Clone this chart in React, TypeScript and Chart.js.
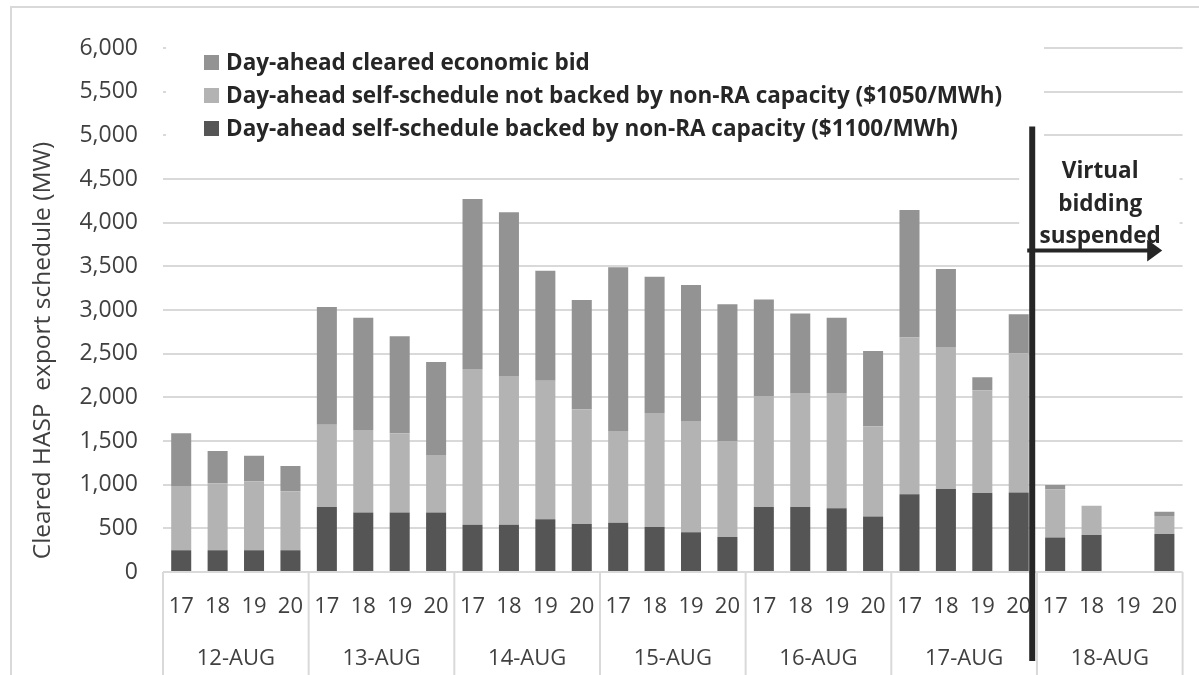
import React, { useEffect, useRef } from 'react';
import { Chart, registerables } from 'chart.js';

Chart.register(...registerables);

// ---------- data ----------
const HOURS = ['17', '18', '19', '20'];
const DATES = ['12-AUG', '13-AUG', '14-AUG', '15-AUG', '16-AUG', '17-AUG', '18-AUG'];
const HOUR_LABELS = DATES.flatMap(() => HOURS);

const SERIES_NAMES = [
  'Day-ahead cleared economic bid',
  'Day-ahead self-schedule not backed by non-RA capacity ($1050/MWh)',
  'Day-ahead self-schedule backed by non-RA capacity ($1100/MWh)',
];

// MW, one value per hour label
const BACKED_NON_RA = [250, 250, 250, 250, 745, 680, 680, 680, 540, 540, 605, 550, 565, 515, 455, 400, 745, 745, 730, 635, 890, 950, 905, 910, 395, 425, 0, 435];
const NOT_BACKED_NON_RA = [735, 765, 790, 675, 940, 945, 910, 660, 1785, 1705, 1585, 1310, 1050, 1305, 1275, 1100, 1270, 1305, 1320, 1035, 1795, 1625, 1175, 1595, 550, 335, 0, 205];
const ECONOMIC_BID = [605, 370, 290, 290, 1350, 1285, 1110, 1065, 1945, 1875, 1260, 1255, 1875, 1560, 1555, 1565, 1105, 910, 860, 860, 1460, 895, 150, 445, 50, 0, 0, 50];

const Y_MIN = 0;
const Y_MAX = 6000;
const Y_STEP = 500;
const Y_TITLE = 'Cleared HASP  export schedule (MW)';

const ANNOTATION_TEXT = ['Virtual', 'bidding', 'suspended'];
const SUSPEND_AFTER_INDEX = 23; // between 17-AUG 20 and 18-AUG 17
const ARROW_LEVEL = 3680;
const LINE_TOP_LEVEL = 5100;

// ---------- styles ----------
const FONT = '"Open Sans", Lato, sans-serif';
const TEXT = '#404040';
const BOLD_TEXT = '#262626';
const GRID = '#d9d9d9';
const COLORS = ['#939393', '#b3b3b3', '#555555'];
const BOLD_SIZE = 22.5;

const overlayPlugin = {
  id: 'overlay',
  beforeDatasetsDraw(chart: any) {
    const { ctx, chartArea: a, scales } = chart;
    const x = scales.x;
    const y = scales.y;
    ctx.save();
    ctx.fillStyle = '#ffffff';
    // legend background
    ctx.fillRect(a.left + 3, a.top - 18, 878, 130);
    // annotation text background
    const x0 = x.getPixelForValue(SUSPEND_AFTER_INDEX);
    const x1 = x.getPixelForValue(SUSPEND_AFTER_INDEX + 1);
    const lineX = x0 + 0.37 * (x1 - x0);
    const ay = y.getPixelForValue(ARROW_LEVEL);
    ctx.fillRect(lineX - 13, ay - 110, a.right - 3 - (lineX - 13), 114);
    ctx.restore();
  },
  afterDraw(chart: any) {
    const { ctx, chartArea: a, scales, data } = chart;
    const x = scales.x;
    const y = scales.y;
    ctx.save();

    // legend
    const lx = a.left + 41;
    const items = data.datasets.slice().reverse();
    items.forEach((ds: any, i: number) => {
      const cy = a.top + 14.5 + i * 33;
      ctx.fillStyle = ds.backgroundColor;
      ctx.fillRect(lx, cy - 7.5, 15, 15);
      ctx.fillStyle = BOLD_TEXT;
      ctx.font = `bold ${BOLD_SIZE}px ${FONT}`;
      ctx.textBaseline = 'middle';
      ctx.textAlign = 'left';
      ctx.fillText(ds.label, lx + 22, cy + 1);
    });

    // date group separators under axis
    ctx.strokeStyle = GRID;
    ctx.lineWidth = 2;
    const n = HOUR_LABELS.length;
    for (let g = 0; g <= DATES.length; g++) {
      let px;
      const idx = g * HOURS.length;
      if (idx === 0) px = a.left;
      else if (idx >= n) px = a.right;
      else px = (x.getPixelForValue(idx - 1) + x.getPixelForValue(idx)) / 2;
      ctx.beginPath();
      ctx.moveTo(px, a.bottom);
      ctx.lineTo(px, chart.height);
      ctx.stroke();
    }

    // annotation
    const x0 = x.getPixelForValue(SUSPEND_AFTER_INDEX);
    const x1 = x.getPixelForValue(SUSPEND_AFTER_INDEX + 1);
    const lineX = x0 + 0.37 * (x1 - x0);
    const ay = y.getPixelForValue(ARROW_LEVEL);
    ctx.strokeStyle = '#262626';
    ctx.fillStyle = '#262626';
    ctx.lineWidth = 6;
    ctx.beginPath();
    ctx.moveTo(lineX, y.getPixelForValue(LINE_TOP_LEVEL));
    ctx.lineTo(lineX, a.bottom + 89);
    ctx.stroke();

    const tip = lineX + 130;
    ctx.lineWidth = 4;
    ctx.beginPath();
    ctx.moveTo(lineX - 5, ay);
    ctx.lineTo(tip - 12, ay);
    ctx.stroke();
    ctx.beginPath();
    ctx.moveTo(tip, ay);
    ctx.lineTo(tip - 15, ay - 11);
    ctx.lineTo(tip - 15, ay + 11);
    ctx.closePath();
    ctx.fill();

    ctx.font = `bold ${BOLD_SIZE}px ${FONT}`;
    ctx.textAlign = 'center';
    ctx.textBaseline = 'alphabetic';
    const tx = lineX + 68;
    const offs = [-73, -39.5, -7.5];
    ANNOTATION_TEXT.forEach((t, i) => ctx.fillText(t, tx, ay + offs[i]));
    ctx.restore();
  },
};

export default function App() {
  const ref = useRef<HTMLCanvasElement | null>(null);

  useEffect(() => {
    if (!ref.current) return;
    const tickFont = { family: FONT, size: 22 };
    const chart = new Chart(ref.current, {
      type: 'bar',
      data: {
        labels: HOUR_LABELS,
        datasets: [
          { label: SERIES_NAMES[2], data: BACKED_NON_RA, backgroundColor: COLORS[2], xAxisID: 'x', yAxisID: 'y' },
          { label: SERIES_NAMES[1], data: NOT_BACKED_NON_RA, backgroundColor: COLORS[1], xAxisID: 'x', yAxisID: 'y' },
          { label: SERIES_NAMES[0], data: ECONOMIC_BID, backgroundColor: COLORS[0], xAxisID: 'x', yAxisID: 'y' },
        ],
      },
      options: {
        responsive: false,
        animation: false,
        layout: { padding: { top: 48, right: 1, bottom: 5, left: 0 } },
        datasets: { bar: { barPercentage: 0.55, categoryPercentage: 1 } },
        plugins: { legend: { display: false }, tooltip: { enabled: false } },
        scales: {
          x: {
            stacked: true,
            weight: 0,
            grid: { display: false, drawTicks: false },
            border: { display: false },
            ticks: { font: tickFont, color: TEXT, padding: 22, maxRotation: 0, autoSkip: false },
            afterFit: (s: any) => {
              s.height = 45;
            },
          },
          xDate: {
            type: 'category',
            labels: DATES,
            position: 'bottom',
            weight: 1,
            offset: true,
            grid: { display: false, drawTicks: false },
            border: { display: false },
            ticks: { font: tickFont, color: TEXT, padding: 29, maxRotation: 0, autoSkip: false },
            afterFit: (s: any) => {
              s.height = 53;
            },
          },
          y: {
            stacked: true,
            min: Y_MIN,
            max: Y_MAX,
            ticks: { stepSize: Y_STEP, font: { family: FONT, size: 23 }, color: TEXT, padding: 25 },
            grid: { color: GRID, lineWidth: 2, drawTicks: false },
            border: { display: false },
            title: {
              display: true,
              text: '  ' + Y_TITLE,
              align: 'start',
              font: { family: FONT, size: 24.5 },
              color: TEXT,
              padding: { top: 28, bottom: 0 },
            },
            afterFit: (s: any) => {
              s.width = 163;
            },
          },
        },
      },
      plugins: [overlayPlugin],
    } as any);
    return () => chart.destroy();
  }, []);

  return (
    <div style={{ position: 'fixed', left: 0, top: 0, width: 1199, height: 675, background: '#fff', overflow: 'hidden' }}>
      <div
        style={{
          position: 'absolute',
          left: 10,
          top: 6,
          width: 1250,
          height: 750,
          border: '2px solid #d9d9d9',
        }}
      />
      <canvas ref={ref} width={1199} height={675} style={{ position: 'absolute', left: 0, top: 0, width: 1199, height: 675 }} />
    </div>
  );
}
